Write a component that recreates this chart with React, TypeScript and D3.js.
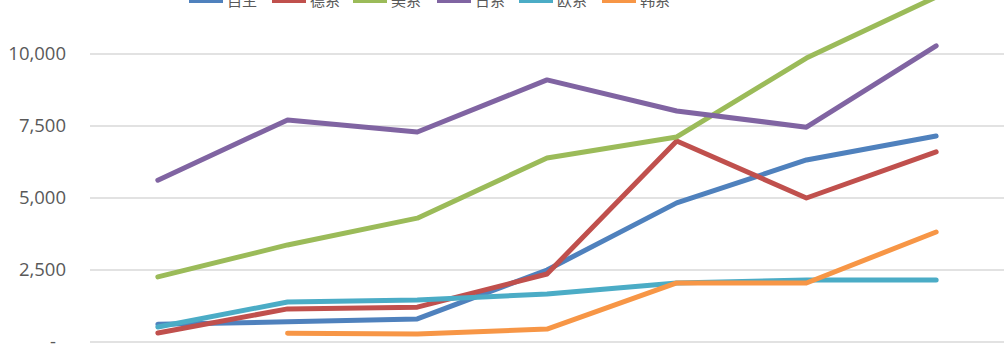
import * as d3 from 'd3';

// x labels are cropped out of the reference, so the years are only placeholders
const categories = ['2010', '2011', '2012', '2013', '2014', '2015', '2016'];
const seriesNames = ['自主', '德系', '美系', '日系', '欧系', '韩系'];
const colors = ['#4F81BD', '#C0504D', '#9BBB59', '#8064A2', '#4BACC6', '#F79646'];

const ziZhu = [620, 700, 800, 2500, 4830, 6320, 7150];
const deXi = [310, 1150, 1210, 2360, 6980, 5000, 6600];
const meiXi = [2260, 3370, 4300, 6390, 7120, 9860, 11980];
const riXi = [5620, 7710, 7290, 9100, 8020, 7460, 10280];
const ouXi = [520, 1390, 1460, 1670, 2050, 2150, 2150];
const hanXi: (number | null)[] = [null, 300, 280, 450, 2050, 2050, 3820];

const yTicks = [0, 2500, 5000, 7500, 10000];

const W = 1004;
const H = 353;

export default function App() {
    const allSeries = [ziZhu, deXi, meiXi, riXi, ouXi, hanXi];

    const x = d3.scaleBand<string>()
        .domain(categories)
        .range([93, 1001]);

    const y = d3.scaleLinear()
        .domain([0, 2500])
        .range([342, 270]);

    const line = d3.line<number | null>()
        .defined(d => d != null)
        .x((_, i) => (x(categories[i]) || 0) + x.bandwidth() / 2)
        .y(d => y(d as number));

    // accounting style: zero shows as a dash
    const fmt = (v: number) => (v === 0 ? '-' : d3.format(',')(v));

    // legend items
    const legendX = [189, 272, 353, 437, 519, 602];

    return (
        <svg
            width={W}
            height={H}
            style={{ position: 'absolute', left: 0, top: 0, background: '#fff' }}
            fontFamily="'Open Sans', 'Noto Sans', sans-serif"
        >
            {/* Grid */}
            {yTicks.map(t => (
                <line
                    key={t}
                    x1={90}
                    x2={W}
                    y1={y(t)}
                    y2={y(t)}
                    stroke="#D9D9D9"
                    strokeWidth={1.5}
                />
            ))}

            {/* Y labels */}
            {yTicks.map(t => (
                <text
                    key={'l' + t}
                    x={t === 0 ? 56 : 66}
                    y={y(t)}
                    dy="0.35em"
                    textAnchor="end"
                    fontSize={18.5}
                    fill="#595959"
                >
                    {fmt(t)}
                </text>
            ))}

            {/* Lines */}
            {allSeries.map((s, i) => (
                <path
                    key={seriesNames[i]}
                    d={line(s) || ''}
                    fill="none"
                    stroke={colors[i]}
                    strokeWidth={5}
                    strokeLinecap="round"
                    strokeLinejoin="round"
                />
            ))}

            {/* Legend (cut by the top edge, as in the reference) */}
            {seriesNames.map((name, i) => (
                <g key={'lg' + name} transform={`translate(${legendX[i]},0)`}>
                    <line x1={0} x2={34} y1={0.5} y2={0.5} stroke={colors[i]} strokeWidth={5} />
                    <text
                        x={38}
                        y={-1}
                        dominantBaseline="central"
                        fontSize={15}
                        fill="#595959"
                        fontFamily="'Noto Sans CJK SC', sans-serif"
                    >
                        {name}
                    </text>
                </g>
            ))}
        </svg>
    );
}
